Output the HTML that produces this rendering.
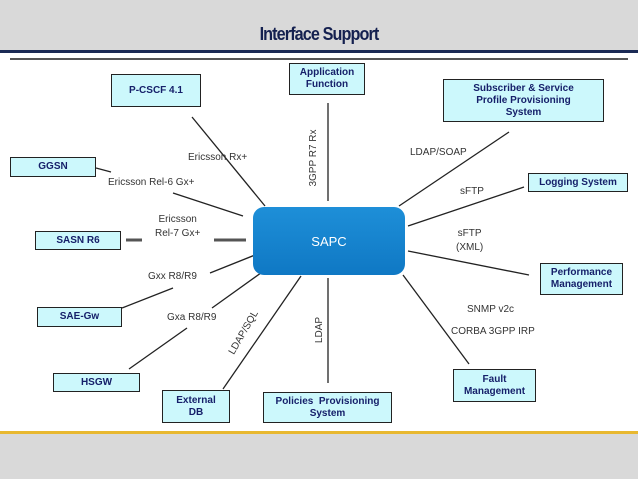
<!DOCTYPE html>
<html><head><meta charset="utf-8"><style>
body{margin:0;width:638px;height:479px;position:relative;overflow:hidden;background:#fff;font-family:"Liberation Sans",sans-serif}
.b{position:absolute;background:#ccf8fc;border:1.5px solid #222;box-sizing:border-box;color:#16206a;font-weight:bold;font-size:10px;line-height:12px;display:flex;align-items:center;justify-content:center;text-align:center}
.l{position:absolute;font-size:10px;color:#333;white-space:nowrap;line-height:12px}
</style></head><body>
<div style="position:absolute;left:0;top:0;width:638px;height:50px;background:#d9d9d9"></div>
<div style="position:absolute;left:0;top:50px;width:638px;height:3px;background:#1b2a55"></div>
<div style="position:absolute;left:10px;top:58px;width:618px;height:2px;background:#555"></div>
<div style="position:absolute;left:0;top:24px;width:638px;text-align:center;font-family:'Liberation Sans Narrow','Liberation Sans',sans-serif;font-weight:bold;font-size:18px;color:#14204f;letter-spacing:-1px;transform:scaleX(0.9)">Interface Support</div>
<div style="position:absolute;left:0;top:431px;width:638px;height:3px;background:#e8b830"></div>
<div style="position:absolute;left:0;top:434px;width:638px;height:45px;background:#d9d9d9"></div>
<svg style="position:absolute;left:0;top:0" width="638" height="479">
<g stroke="#222" stroke-width="1.3">
<line x1="192" y1="117" x2="265" y2="206"/>
<line x1="328" y1="103" x2="328" y2="201"/>
<line x1="509" y1="132" x2="399" y2="206"/>
<line x1="96" y1="168" x2="111" y2="172"/>
<line x1="173" y1="193" x2="243" y2="216"/>
<line x1="524" y1="187" x2="408" y2="226"/>
<line x1="408" y1="251" x2="529" y2="275"/>
<line x1="260" y1="253" x2="210" y2="273"/>
<line x1="173" y1="288" x2="122" y2="308"/>
<line x1="272" y1="265" x2="212" y2="308"/>
<line x1="187" y1="328" x2="129" y2="369"/>
<line x1="301" y1="276" x2="223" y2="389"/>
<line x1="328" y1="278" x2="328" y2="383"/>
<line x1="403" y1="275" x2="469" y2="364"/>
</g>
<g stroke="#555" stroke-width="3">
<line x1="126" y1="240" x2="142" y2="240"/>
<line x1="214" y1="240" x2="246" y2="240"/>
</g>
<defs><linearGradient id="g" x1="0" y1="0" x2="0" y2="1"><stop offset="0" stop-color="#1e8fd8"/><stop offset="1" stop-color="#0f78c4"/></linearGradient></defs>
<rect x="253" y="207" width="152" height="68" rx="11" fill="url(#g)"/>
<text x="329" y="246" fill="#fff" font-size="13" text-anchor="middle" font-family="Liberation Sans">SAPC</text>
<text transform="translate(316,158) rotate(-90)" font-size="10" fill="#333" text-anchor="middle" font-family="Liberation Sans">3GPP R7 Rx</text>
<text transform="translate(322,330) rotate(-90)" font-size="10" fill="#333" text-anchor="middle" font-family="Liberation Sans">LDAP</text>
<text transform="translate(246,334) rotate(-60)" font-size="10" fill="#333" text-anchor="middle" font-family="Liberation Sans">LDAP/SQL</text>
</svg>
<div class="b" style="left:111px;top:74px;width:90px;height:33px">P-CSCF 4.1</div>
<div class="b" style="left:289px;top:63px;width:76px;height:32px">Application<br>Function</div>
<div class="b" style="left:443px;top:79px;width:161px;height:43px">Subscriber &amp; Service<br>Profile Provisioning<br>System</div>
<div class="b" style="left:10px;top:157px;width:86px;height:20px">GGSN</div>
<div class="b" style="left:528px;top:173px;width:100px;height:19px">Logging System</div>
<div class="b" style="left:35px;top:231px;width:86px;height:19px">SASN R6</div>
<div class="b" style="left:540px;top:263px;width:83px;height:32px">Performance<br>Management</div>
<div class="b" style="left:37px;top:307px;width:85px;height:20px">SAE-Gw</div>
<div class="b" style="left:53px;top:373px;width:87px;height:19px">HSGW</div>
<div class="b" style="left:453px;top:369px;width:83px;height:33px">Fault<br>Management</div>
<div class="b" style="left:162px;top:390px;width:68px;height:33px">External<br>DB</div>
<div class="b" style="left:263px;top:392px;width:129px;height:31px">Policies&nbsp; Provisioning<br>System</div>
<div class="l" style="left:188px;top:152px">Ericsson Rx+</div>
<div class="l" style="left:108px;top:177px">Ericsson Rel-6 Gx+</div>
<div class="l" style="left:155px;top:214px;text-align:center">Ericsson<br><span style="line-height:16px">Rel-7 Gx+</span></div>
<div class="l" style="left:148px;top:271px">Gxx R8/R9</div>
<div class="l" style="left:167px;top:312px">Gxa R8/R9</div>
<div class="l" style="left:410px;top:147px">LDAP/SOAP</div>
<div class="l" style="left:460px;top:186px">sFTP</div>
<div class="l" style="left:456px;top:227px;text-align:center;line-height:14px">sFTP<br>(XML)</div>
<div class="l" style="left:467px;top:304px">SNMP v2c</div>
<div class="l" style="left:451px;top:326px">CORBA 3GPP IRP</div>
</body></html>
